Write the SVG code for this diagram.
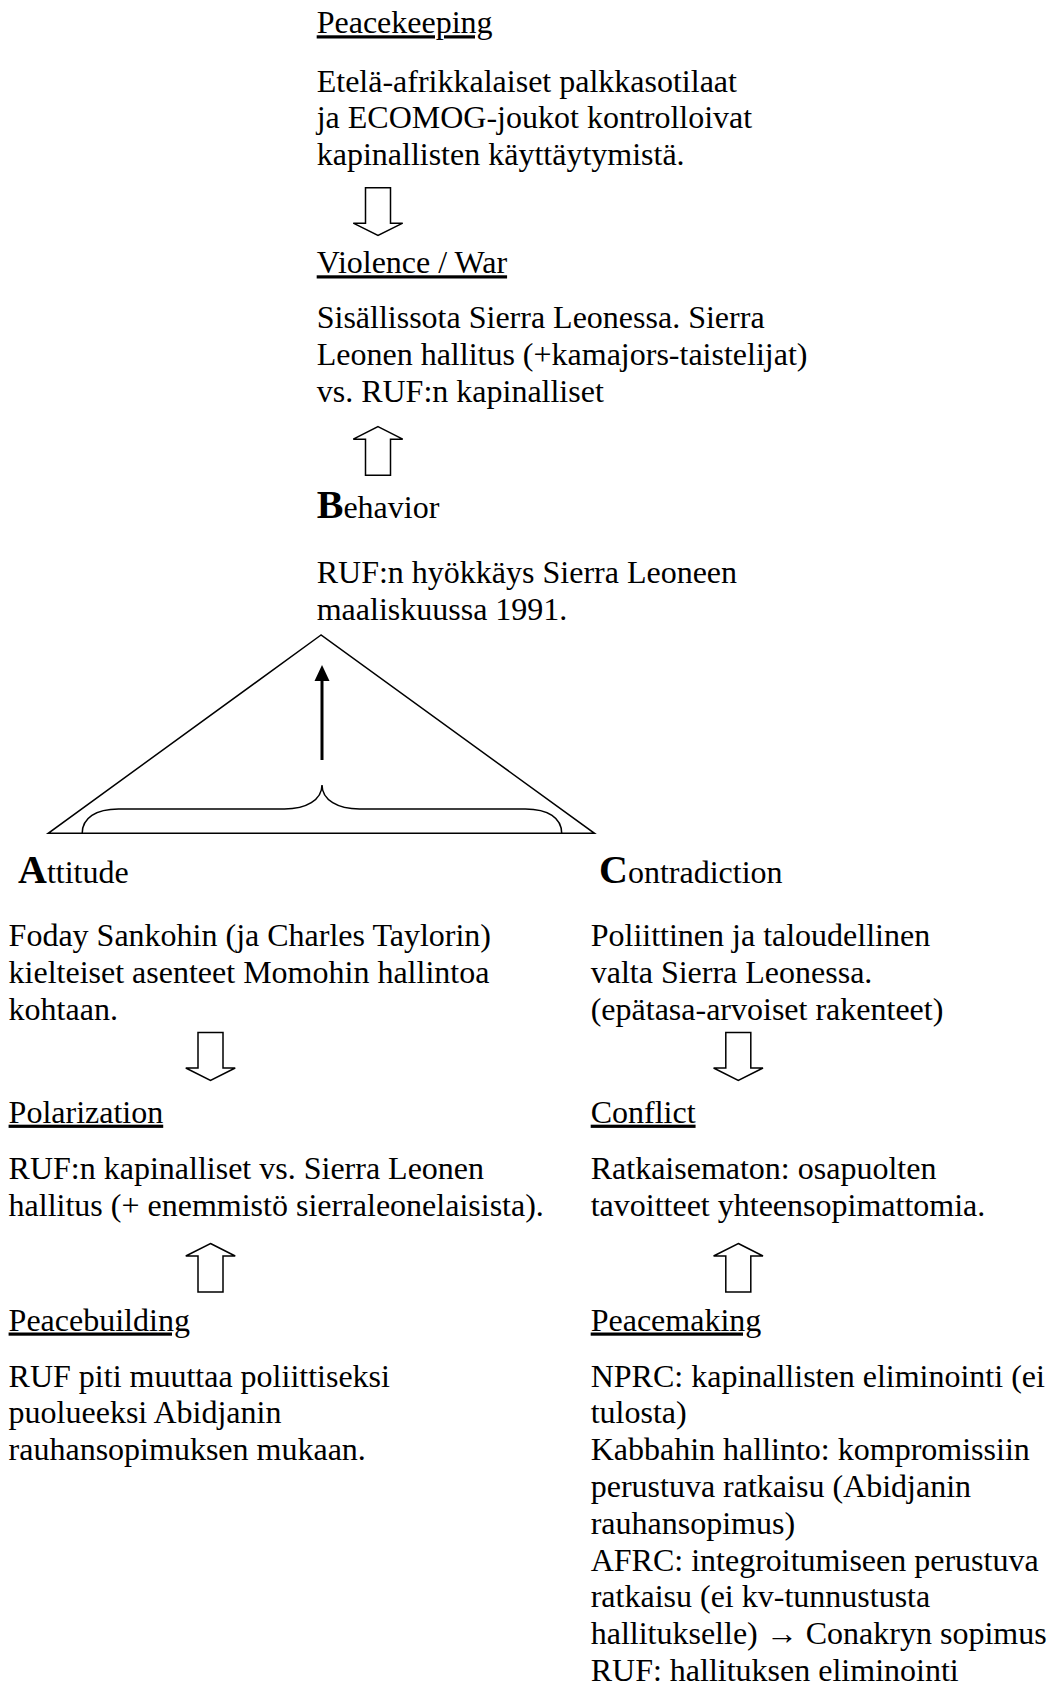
<svg xmlns="http://www.w3.org/2000/svg" width="1048" height="1689" viewBox="0 0 1048 1689">
<style>
  text { font-family: "Liberation Serif", "Times New Roman", serif; font-size: 32px; fill: #000; }
  .u { text-decoration: underline; }
  .big { font-weight: bold; font-size: 40px; }
  .blk { fill: #fff; stroke: #000; stroke-width: 1.5; stroke-linejoin: miter; }
  .ln { fill: none; stroke: #000; stroke-width: 1.5; }
</style>
<defs>
  <path id="downArrow" class="blk" d="M-12.5,0 L12.5,0 L12.5,35.5 L24.7,35.5 L0,47.8 L-24.7,35.5 L-12.5,35.5 Z"/>
  <path id="upArrow" class="blk" d="M0,0 L24.7,12.5 L12.5,12.5 L12.5,48.5 L-12.5,48.5 L-12.5,12.5 L-24.7,12.5 Z"/>
</defs>
<rect width="1048" height="1689" fill="#fff"/>

<g id="peacekeeping">
  <text x="316.7" y="33.3" class="u">Peacekeeping</text>
  <text x="316.7" y="91.7">Etelä-afrikkalaiset palkkasotilaat</text>
  <text x="316.7" y="128.4">ja ECOMOG-joukot kontrolloivat</text>
  <text x="316.7" y="165.1">kapinallisten käyttäytymistä.</text>
</g>

<g id="violence-war">
  <text x="316.7" y="273.3" class="u">Violence / War</text>
  <text x="316.7" y="328.3">Sisällissota Sierra Leonessa. Sierra</text>
  <text x="316.7" y="365">Leonen hallitus (+kamajors-taistelijat)</text>
  <text x="316.7" y="401.7">vs. RUF:n kapinalliset</text>
</g>

<g id="behavior">
  <text x="316.7" y="518.3"><tspan class="big">B</tspan>ehavior</text>
  <text x="316.7" y="583.3">RUF:n hyökkäys Sierra Leoneen</text>
  <text x="316.7" y="620">maaliskuussa 1991.</text>
</g>

<g id="abc-triangle">
  <path class="ln" d="M321,635 L48.2,833.3 L594.5,833.3 Z"/>
  <path class="ln" d="M82.2,833.3 C82.2,818 96,809 118.5,809 L284.4,809 C306,809 322,800 322,785 C322,800 338,809 359.5,809 L525.4,809 C548,809 561.7,818 561.7,833.3"/>
</g>

<g id="attitude">
  <text x="18" y="883.3"><tspan class="big">A</tspan>ttitude</text>
  <text x="8.6" y="946">Foday Sankohin (ja Charles Taylorin)</text>
  <text x="8.6" y="982.8">kielteiset asenteet Momohin hallintoa</text>
  <text x="8.6" y="1019.6">kohtaan.</text>
</g>

<g id="contradiction">
  <text x="599" y="883.3"><tspan class="big">C</tspan>ontradiction</text>
  <text x="590.7" y="946">Poliittinen ja taloudellinen</text>
  <text x="590.7" y="982.8">valta Sierra Leonessa.</text>
  <text x="590.7" y="1019.6">(epätasa-arvoiset rakenteet)</text>
</g>

<g id="polarization">
  <text x="8.6" y="1122.7" class="u">Polarization</text>
  <text x="8.6" y="1179">RUF:n kapinalliset vs. Sierra Leonen</text>
  <text x="8.6" y="1215.8">hallitus (+ enemmistö sierraleonelaisista).</text>
</g>

<g id="conflict">
  <text x="590.7" y="1122.7" class="u">Conflict</text>
  <text x="590.7" y="1179">Ratkaisematon: osapuolten</text>
  <text x="590.7" y="1215.8">tavoitteet yhteensopimattomia.</text>
</g>

<g id="peacebuilding">
  <text x="8.6" y="1330.5" class="u">Peacebuilding</text>
  <text x="8.6" y="1386.5">RUF piti muuttaa poliittiseksi</text>
  <text x="8.6" y="1423.3">puolueeksi Abidjanin</text>
  <text x="8.6" y="1460.1">rauhansopimuksen mukaan.</text>
</g>

<g id="peacemaking">
  <text x="590.7" y="1330.5" class="u">Peacemaking</text>
  <text x="590.7" y="1386.5">NPRC: kapinallisten eliminointi (ei</text>
  <text x="590.7" y="1423.3">tulosta)</text>
  <text x="590.7" y="1460.1">Kabbahin hallinto: kompromissiin</text>
  <text x="590.7" y="1496.9">perustuva ratkaisu (Abidjanin</text>
  <text x="590.7" y="1533.7">rauhansopimus)</text>
  <text x="590.7" y="1570.5">AFRC: integroitumiseen perustuva</text>
  <text x="590.7" y="1607.3">ratkaisu (ei kv-tunnustusta</text>
  <text x="590.7" y="1644.1">hallitukselle) → Conakryn sopimus</text>
  <text x="590.7" y="1680.9">RUF: hallituksen eliminointi</text>
</g>

<g id="connectors">
  <use href="#downArrow" x="378" y="187.7"/>
  <use href="#upArrow" x="378" y="426.7"/>
  <line x1="322" y1="760" x2="322" y2="678" stroke="#000" stroke-width="3"/>
  <polygon points="322,665 314.5,681 329.5,681" fill="#000"/>
  <use href="#downArrow" x="210.5" y="1032.5"/>
  <use href="#downArrow" x="738.3" y="1032.5"/>
  <use href="#upArrow" x="210.5" y="1243.5"/>
  <use href="#upArrow" x="738.3" y="1243.5"/>
</g>
</svg>
